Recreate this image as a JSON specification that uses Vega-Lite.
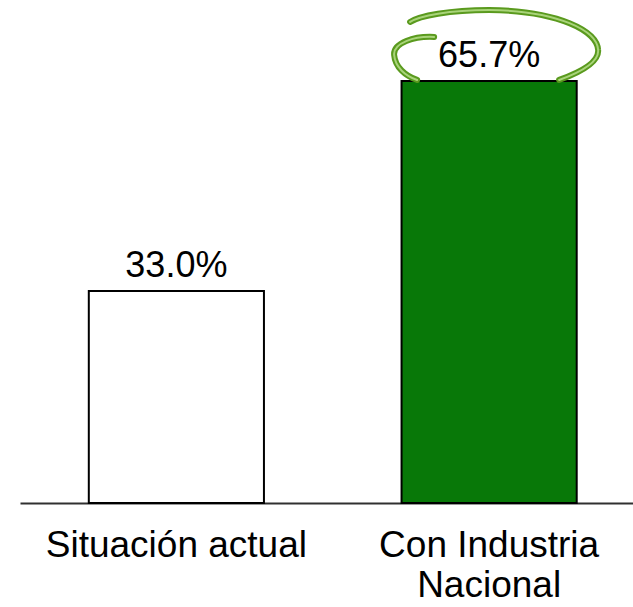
{
  "$schema": "https://vega.github.io/schema/vega-lite/v6.json",
  "width": 613,
  "height": 503,
  "autosize": {"type": "none"},
  "padding": {"left": 20, "right": 0, "top": 0, "bottom": 104},
  "background": "white",
  "config": {"view": {"stroke": null}, "font": "Liberation Sans"},
  "data": {
    "values": [
      {"category": "Situación actual", "value": 0.33, "highlight": false},
      {"category": "Con Industria Nacional", "value": 0.657, "highlight": true}
    ]
  },
  "encoding": {
    "x": {
      "field": "category",
      "type": "nominal",
      "sort": null,
      "scale": {"paddingInner": 0.44, "paddingOuter": 0.2, "align": 0.55},
      "axis": {
        "title": null,
        "labelAngle": 0,
        "ticks": false,
        "tickSize": 0,
        "domainColor": "#303030",
        "domainWidth": 2,
        "labelFont": "Liberation Sans",
        "labelFontSize": 37,
        "labelColor": "black",
        "labelBaseline": "top",
        "labelPadding": 24,
        "labelLineHeight": 40,
        "labelLimit": 0,
        "labelExpr": "datum.value == 'Con Industria Nacional' ? ['Con Industria', 'Nacional'] : datum.value"
      }
    },
    "y": {
      "field": "value",
      "type": "quantitative",
      "scale": {"domain": [0, 0.783], "nice": false, "zero": true},
      "axis": null
    }
  },
  "layer": [
    {
      "mark": {"type": "bar", "stroke": "black", "strokeWidth": 2},
      "encoding": {
        "color": {
          "field": "highlight",
          "type": "nominal",
          "scale": {"domain": [false, true], "range": ["white", "#087808"]},
          "legend": null
        }
      }
    },
    {
      "mark": {
        "type": "text",
        "baseline": "alphabetic",
        "dy": -14,
        "fontSize": 36,
        "font": "Liberation Sans",
        "color": "black"
      },
      "encoding": {"text": {"field": "value", "type": "quantitative", "format": ".1%"}}
    },
    {
      "transform": [{"filter": "datum.highlight"}],
      "mark": {
        "type": "point",
        "filled": false,
        "opacity": 1,
        "size": 4,
        "shape": "M -55 -44 C -75 -45 -96 -38 -95 -26 C -94 -14 -84 -5 -72 -1 M 70 -1 C 95 -10 110 -20 109 -31 C 108 -50 70 -70 0 -71 C -40 -71 -70 -65 -79 -59",
        "stroke": "#5a9a1e",
        "strokeWidth": 6,
        "strokeCap": "round"
      }
    },
    {
      "transform": [{"filter": "datum.highlight"}],
      "mark": {
        "type": "point",
        "filled": false,
        "opacity": 1,
        "size": 4,
        "shape": "M -55 -44 C -75 -45 -96 -38 -95 -26 C -94 -14 -84 -5 -72 -1 M 70 -1 C 95 -10 110 -20 109 -31 C 108 -50 70 -70 0 -71 C -40 -71 -70 -65 -79 -59",
        "stroke": "#a9d47a",
        "strokeWidth": 2,
        "strokeCap": "round"
      }
    }
  ]
}
